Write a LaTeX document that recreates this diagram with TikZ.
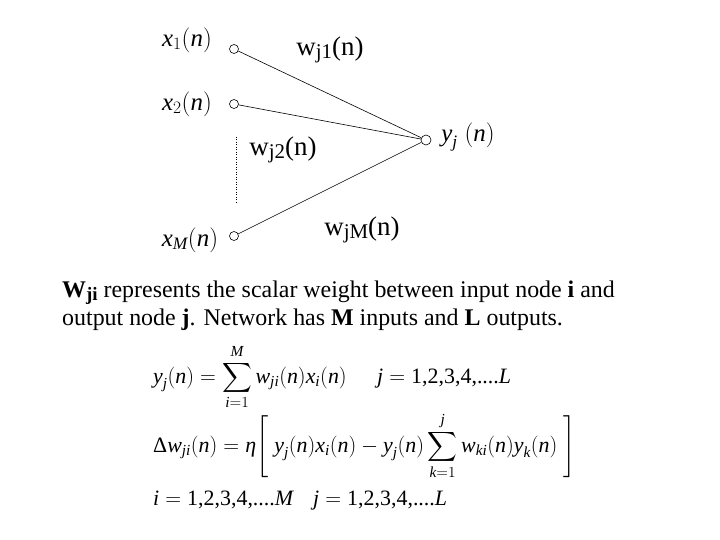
\RequirePackage{fix-cm}
\documentclass[tikz,border=0pt]{standalone}
\usepackage{amsmath}
\usepackage{fontspec}
\setmainfont{Liberation Serif}
\newcommand\V[1]{\textit{#1}}
\newcommand\U[1]{\textup{#1}}
\begin{document}
\begin{tikzpicture}[x=1bp,y=-1bp,font=\fontsize{22}{26}\selectfont]
\tikzset{
  neuron/.style={circle,draw,inner sep=0pt,minimum size=9bp,line width=0.6pt},
  conn/.style={line width=0.6pt},
  lbl/.style={inner sep=0pt,font=\fontsize{25}{30}\selectfont},
  wlbl/.style={inner sep=0pt,font=\fontsize{27}{30}\selectfont},
  txt/.style={inner sep=0pt,anchor=base west,font=\fontsize{24}{28}\selectfont},
  eq/.style={inner sep=0pt,anchor=base west}
}
\useasboundingbox (0,0) rectangle (720,540);
% neurons
\node[neuron] (c1) at (234,49) {};
\node[neuron] (c2) at (234,104) {};
\node[neuron] (cM) at (234,236) {};
\node[neuron,minimum size=10bp] (out) at (426,140) {};
\draw[conn] (c1) -- (out);
\draw[conn] (c2) -- (out);
\draw[conn] (cM) -- (out);
\coordinate (d1) at (236,137);
\coordinate (d2) at (236,203);
\draw[line width=0.5pt,dotted] (d1) -- (d2);
% labels
\node[lbl] (lx1) at (187,40) {$\V{x}_1(\V{n})$};
\node[lbl] (lx2) at (187,104) {$\V{x}_2(\V{n})$};
\node[lbl] (lxM) at (190,240) {$\V{x}_{\V{M}}(\V{n})$};
\node[lbl] (ly) at (468,137) {$\V{y}_{\V{j}}\;(\V{n})$};
\node[wlbl] (w1) at (330,50) {w\raisebox{-0.3ex}{\fontsize{21}{21}\selectfont j1}(n)};
\node[wlbl] (w2) at (283,150) {w\raisebox{-0.3ex}{\fontsize{21}{21}\selectfont j2}(n)};
\node[wlbl] (wM) at (362,230) {w\raisebox{-0.3ex}{\fontsize{21}{21}\selectfont jM}(n)};
% text
\node[txt] (t1) at (62,297) {\textbf{W\raisebox{-0.35ex}{\fontsize{19}{19}\selectfont ji}} represents the scalar weight between input node \textbf{i} and};
\node[txt] (t2) at (62,325) {output node \textbf{j}. Network has \textbf{M} inputs and \textbf{L} outputs.};
% equations
\node[eq] (e1) at (153,383) {$\V{y}_{\V{j}}(\V{n}) = \displaystyle\sum_{\V{i}=1}^{\V{M}} \V{w}_{\V{ji}}(\V{n})\V{x}_{\V{i}}(\V{n})$};
\node[eq] (e1b) at (377,383) {$\V{j} = \U{1,2,3,4,....}\V{L}$};
\node[eq] (e2) at (153,452) {$\U{Δ}\V{w}_{\V{ji}}(\V{n}) = \V{η}\Biggl[\;\V{y}_{\V{j}}(\V{n})\V{x}_{\V{i}}(\V{n}) - \V{y}_{\V{j}}(\V{n})\displaystyle\sum_{\V{k}=1}^{\V{j}}\V{w}_{\V{ki}}(\V{n})\V{y}_{\V{k}}(\V{n})\;\Biggr]$};
\node[eq] (e3) at (153,505) {$\V{i} = \U{1,2,3,4,....}\V{M}$};
\node[eq] (e3b) at (313,505) {$\V{j} = \U{1,2,3,4,....}\V{L}$};
\end{tikzpicture}
\end{document}
